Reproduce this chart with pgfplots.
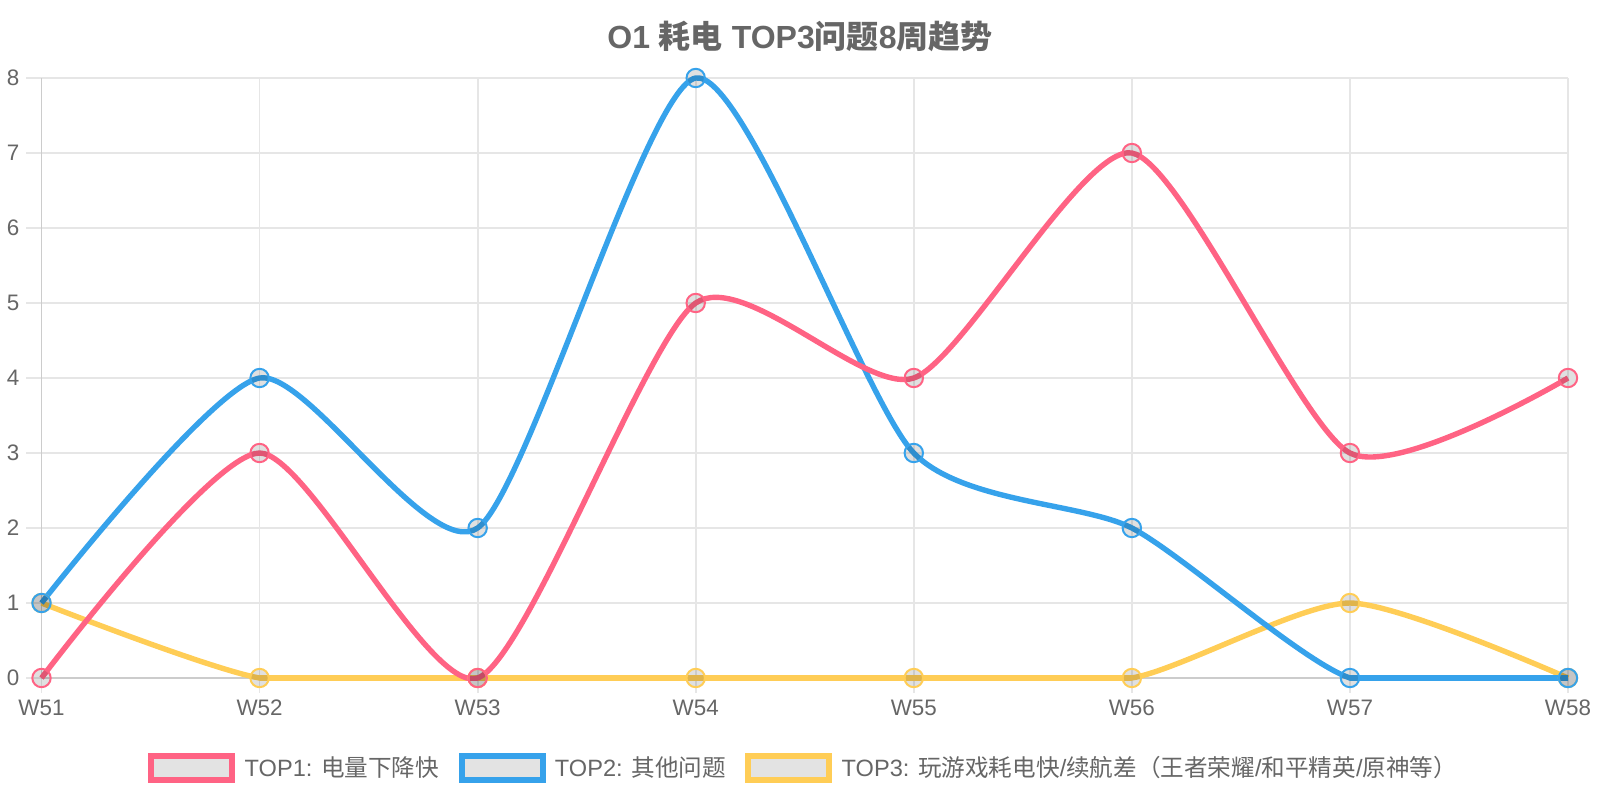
\documentclass[border=0pt]{standalone}
\usepackage{fontspec}
\setmainfont{Liberation Sans}
\newfontfamily\cjk{Noto Sans CJK SC}
\usepackage{pgfplots}
\usepackage{pgfplotstable}
\pgfplotsset{compat=1.18}
\definecolor{cpink}{HTML}{FF6384}
\definecolor{cblue}{HTML}{36A2EB}
\definecolor{cyel}{HTML}{FFCD56}
\definecolor{ctxt}{HTML}{666666}
\definecolor{cgrid}{HTML}{E6E6E6}
\definecolor{caxis}{HTML}{CCCCCC}

\pgfplotstableread{
x top1 top2 top3
0 0 1 1
1 3 4 0
2 0 2 0
3 5 8 0
4 4 3 0
5 7 2 0
6 3 0 1
7 4 0 0
}\data

\pgfplotsset{
  ser/.style={smooth, tension=0.4, line width=2.7pt, draw=#1, mark=none},
  flat/.style={sharp plot, line width=2.7pt, draw=#1, mark=none},
  pts/.style={only marks, mark=*, mark size=4.6pt, mark options={draw=#1, fill=black, fill opacity=0.12, draw opacity=1, line width=1pt}},
}
\begin{document}
\begin{tikzpicture}
\useasboundingbox (0,0) rectangle (800pt,400pt);
\begin{axis}[
  at={(20.75pt,61pt)}, anchor=south west, scale only axis,
  width=763.25pt, height=300pt,
  xmin=0, xmax=7, ymin=0, ymax=8,
  xtick={0,...,7}, xticklabels={W51,W52,W53,W54,W55,W56,W57,W58},
  ytick={0,...,8},
  axis x line*=bottom, axis y line*=left,
  axis line style={draw=caxis, line width=0.9pt, -},
  grid=major, major grid style={draw=cgrid, line width=0.9pt},
  tick align=outside, major tick length=7.5pt,
  tick style={draw=cgrid, line width=0.9pt},
  ticklabel style={font=\fontsize{11.2}{13}\selectfont, text=ctxt},
  /pgf/number format/assume math mode=true,
  legend style={at={(0.4985,-0.15)}, anchor=center, draw=none, fill=none,
    legend columns=3, font=\fontsize{11.8}{14}\selectfont, text=ctxt,
    inner sep=0pt, nodes={inner sep=0pt},
    /tikz/every even column/.append style={column sep=9.5pt}},
  legend cell align=left,
  legend image code/.code={\path (0pt,0pt) (48pt,0pt);\draw[#1, line width=3pt, fill=black!11] (1.5pt,-6pt) rectangle (42pt,6pt);},
]
\addlegendimage{draw=cpink}
\addlegendentry{TOP1: {\cjk 电量下降快}}
\addlegendimage{draw=cblue}
\addlegendentry{TOP2: {\cjk 其他问题}}
\addlegendimage{draw=cyel}
\addlegendentry{TOP3: {\cjk 玩游戏耗电快}/{\cjk 续航差（王者荣耀}/{\cjk 和平精英}/{\cjk 原神等）}}
\end{axis}
\begin{axis}[
  at={(-88.2857pt,59.65pt)}, anchor=south west, scale only axis,
  width=981.32pt, height=376.35pt,
  xmin=-1, xmax=8, ymin=-0.036, ymax=10,
  axis lines=none, xtick=\empty, ytick=\empty,
]
\addplot[ser=cyel] table[x=x,y=top3]{\data};
\addplot[flat=cyel, restrict x to domain=1:5] table[x=x,y=top3]{\data};
\addplot[pts=cyel] table[x=x,y=top3]{\data};
\addplot[ser=cblue] table[x=x,y=top2]{\data};
\addplot[flat=cblue, restrict x to domain=6:7] table[x=x,y=top2]{\data};
\addplot[pts=cblue] table[x=x,y=top2]{\data};
\addplot[ser=cpink] table[x=x,y=top1]{\data};
\addplot[pts=cpink] table[x=x,y=top1]{\data};
\end{axis}
\node[font=\bfseries\fontsize{16}{19}\selectfont, text=ctxt] at (400pt,382pt) {O1 {\cjk 耗电} TOP3{\cjk 问题}8{\cjk 周趋势}};
\end{tikzpicture}
\end{document}
